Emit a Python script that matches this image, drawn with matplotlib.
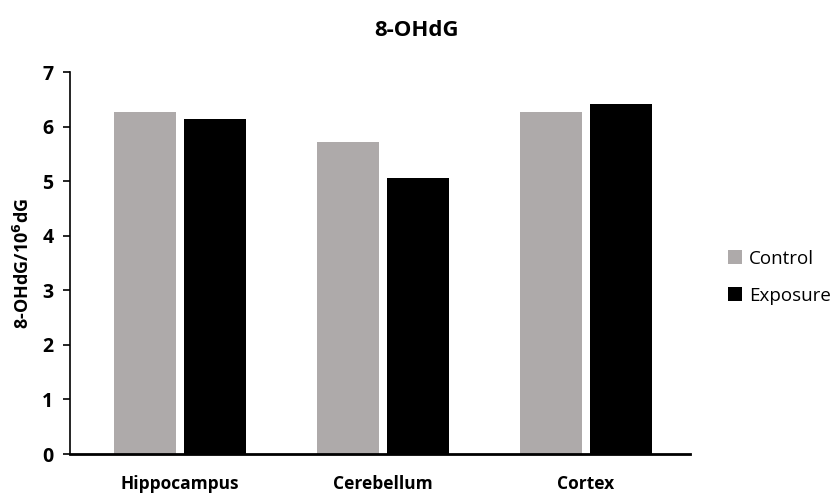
import matplotlib.pyplot as plt
import numpy as np

plt.rcParams['font.family'] = ['Open Sans', 'DejaVu Sans']

regions = ['Hippocampus', 'Cerebellum', 'Cortex']
control = [6.27, 5.71, 6.27]
exposure = [6.14, 5.06, 6.42]

fig = plt.figure(figsize=(8.35, 5), dpi=100)
ax = fig.add_axes([0.084, 0.092, 0.742, 0.764])

x = np.arange(len(regions))
w = 0.305
ax.bar(x - 0.172, control, w, color='#AEAAAA', label='Control')
ax.bar(x + 0.172, exposure, w, color='#000000', label='Exposure')

ax.set_xlim(-0.542, 2.512)
ax.set_ylim(0, 7)
ax.set_yticks(range(8))
ax.set_xticks(x)
ax.set_xticklabels(regions, fontsize=12.5, fontweight='bold')
for lbl in ax.get_yticklabels():
    lbl.set_fontsize(14)
    lbl.set_fontweight('bold')
ax.tick_params(axis='x', length=0, pad=15)
ax.tick_params(axis='y', length=5, width=1.2, pad=7)

ax.spines['top'].set_visible(False)
ax.spines['right'].set_visible(False)
ax.spines['left'].set_linewidth(1.2)
ax.spines['bottom'].set_linewidth(2)

ax.set_ylabel('8-OHdG/10$^{\\mathbf{6}}$dG', fontsize=13, fontweight='bold', labelpad=7)
fig.text(0.499, 0.94, '8-OHdG', ha='center', va='center', fontsize=16, fontweight='bold')

ax.legend(loc='center left', bbox_to_anchor=(1.035, 0.463), frameon=False,
          fontsize=13.5, handlelength=0.75, handleheight=0.75, handletextpad=0.35,
          labelspacing=1.0)

fig.savefig('out.png', dpi=100)
